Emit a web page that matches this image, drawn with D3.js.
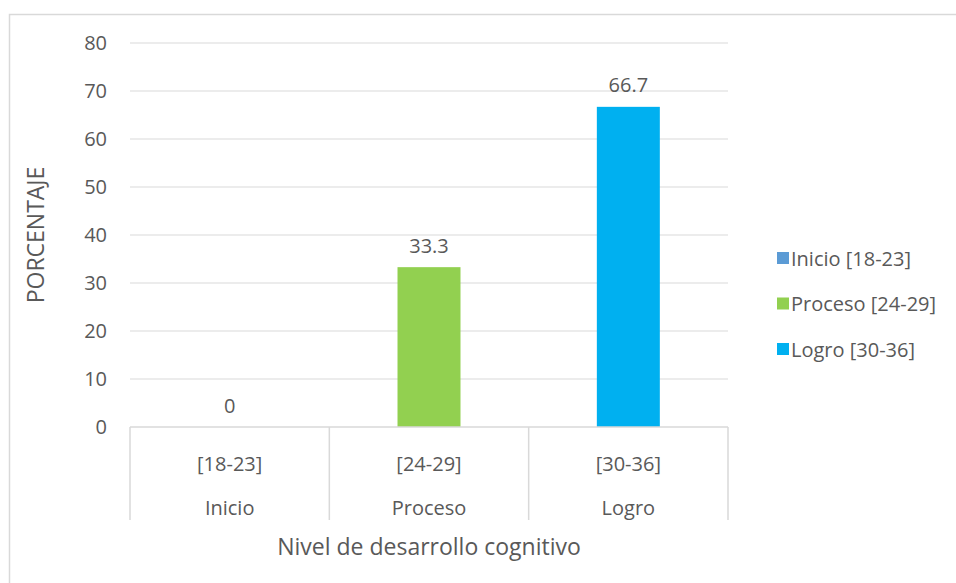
<!DOCTYPE html>
<html>
<head>
<meta charset="utf-8">
<script src="https://cdnjs.cloudflare.com/ajax/libs/d3/7.8.5/d3.min.js"></script>
<style>
  body { margin: 0; background: #fff; }
  text { font-family: "Open Sans", "Noto Sans", sans-serif; fill: #595959; }
</style>
</head>
<body>
<script>
// Data
var ranges = ["[18-23]", "[24-29]", "[30-36]"];
var levels = ["Inicio", "Proceso", "Logro"];
var values = [0, 33.3, 66.7];
var colors = ["#5B9BD5", "#92D050", "#00B0F0"];
var yTicks = [0, 10, 20, 30, 40, 50, 60, 70, 80];

var width = 956, height = 583;
var margin = {top: 43, right: 228, bottom: 156, left: 130};

var svg = d3.select("body").append("svg")
    .attr("width", width)
    .attr("height", height);

// outer chart border (runs off the right and bottom edges)
svg.append("rect")
    .attr("x", 9.5).attr("y", 14.5)
    .attr("width", 960).attr("height", 600)
    .attr("fill", "none")
    .attr("stroke", "#D9D9D9")
    .attr("stroke-width", 1.5);

var x = d3.scaleBand()
    .domain(ranges)
    .range([margin.left, width - margin.right])
    .padding(0);

var y = d3.scaleLinear()
    .domain([0, 80])
    .range([height - margin.bottom, margin.top]);

var barW = x.bandwidth() * 0.316;

// gridlines
svg.append("g")
    .selectAll("line")
    .data(yTicks.slice(1))
    .enter().append("line")
    .attr("x1", margin.left).attr("x2", width - margin.right)
    .attr("y1", function(d) { return y(d); })
    .attr("y2", function(d) { return y(d); })
    .attr("stroke", "#D9D9D9")
    .attr("stroke-width", 1);

// y axis labels
var yAxis = d3.axisLeft(y).tickValues(yTicks).tickSize(0).tickPadding(23);
var gy = svg.append("g")
    .attr("transform", "translate(" + margin.left + ",0)")
    .call(yAxis);
gy.select(".domain").remove();
gy.selectAll("text")
    .style("font-size", "20px")
    .style("font-family", "'Open Sans', sans-serif")
    .attr("fill", "#595959");

// bars
svg.append("g")
    .selectAll("rect")
    .data(values)
    .enter().append("rect")
    .attr("x", function(d, i) { return x(ranges[i]) + (x.bandwidth() - barW) / 2; })
    .attr("y", function(d) { return y(d); })
    .attr("width", barW)
    .attr("height", function(d) { return y(0) - y(d); })
    .attr("fill", function(d, i) { return colors[i]; });

// data labels
svg.append("g")
    .selectAll("text")
    .data(values)
    .enter().append("text")
    .attr("x", function(d, i) { return x(ranges[i]) + x.bandwidth() / 2; })
    .attr("y", function(d) { return y(d) - 22; })
    .attr("text-anchor", "middle")
    .attr("dominant-baseline", "central")
    .style("font-size", "20px")
    .text(function(d) { return d; });

// x axis line and group separators
var y0 = y(0);
svg.append("line")
    .attr("x1", margin.left).attr("x2", width - margin.right)
    .attr("y1", y0).attr("y2", y0)
    .attr("stroke", "#D9D9D9").attr("stroke-width", 1.5);

var seps = ranges.map(function(r) { return x(r); }).concat([width - margin.right]);
svg.append("g")
    .selectAll("line")
    .data(seps)
    .enter().append("line")
    .attr("x1", function(d) { return d; }).attr("x2", function(d) { return d; })
    .attr("y1", y0).attr("y2", y0 + 93)
    .attr("stroke", "#D9D9D9").attr("stroke-width", 1.5);

// multi-level category labels
svg.append("g")
    .selectAll("text")
    .data(ranges)
    .enter().append("text")
    .attr("x", function(d) { return x(d) + x.bandwidth() / 2; })
    .attr("y", y0 + 36)
    .attr("text-anchor", "middle")
    .attr("dominant-baseline", "central")
    .style("font-size", "20px")
    .text(function(d) { return d; });

svg.append("g")
    .selectAll("text")
    .data(levels)
    .enter().append("text")
    .attr("x", function(d, i) { return x(ranges[i]) + x.bandwidth() / 2; })
    .attr("y", y0 + 80)
    .attr("text-anchor", "middle")
    .attr("dominant-baseline", "central")
    .style("font-size", "20px")
    .text(function(d) { return d; });

// axis titles
svg.append("text")
    .attr("x", (margin.left + width - margin.right) / 2)
    .attr("y", 546)
    .attr("text-anchor", "middle")
    .attr("dominant-baseline", "central")
    .style("font-size", "23px")
    .text("Nivel de desarrollo cognitivo");

svg.append("text")
    .attr("transform", "translate(35," + (y(40)) + ") rotate(-90)")
    .attr("text-anchor", "middle")
    .attr("dominant-baseline", "central")
    .style("font-size", "23px")
    .text("PORCENTAJE");

// legend
var legend = svg.append("g")
    .selectAll("g")
    .data(levels)
    .enter().append("g")
    .attr("transform", function(d, i) { return "translate(777," + (258 + i * 45.5) + ")"; });

legend.append("rect")
    .attr("x", 0).attr("y", -6)
    .attr("width", 12).attr("height", 12)
    .attr("fill", function(d, i) { return colors[i]; });

legend.append("text")
    .attr("x", 14)
    .attr("y", 0)
    .attr("dominant-baseline", "central")
    .style("font-size", "20px")
    .text(function(d, i) { return d + " " + ranges[i]; });
</script>
</body>
</html>
